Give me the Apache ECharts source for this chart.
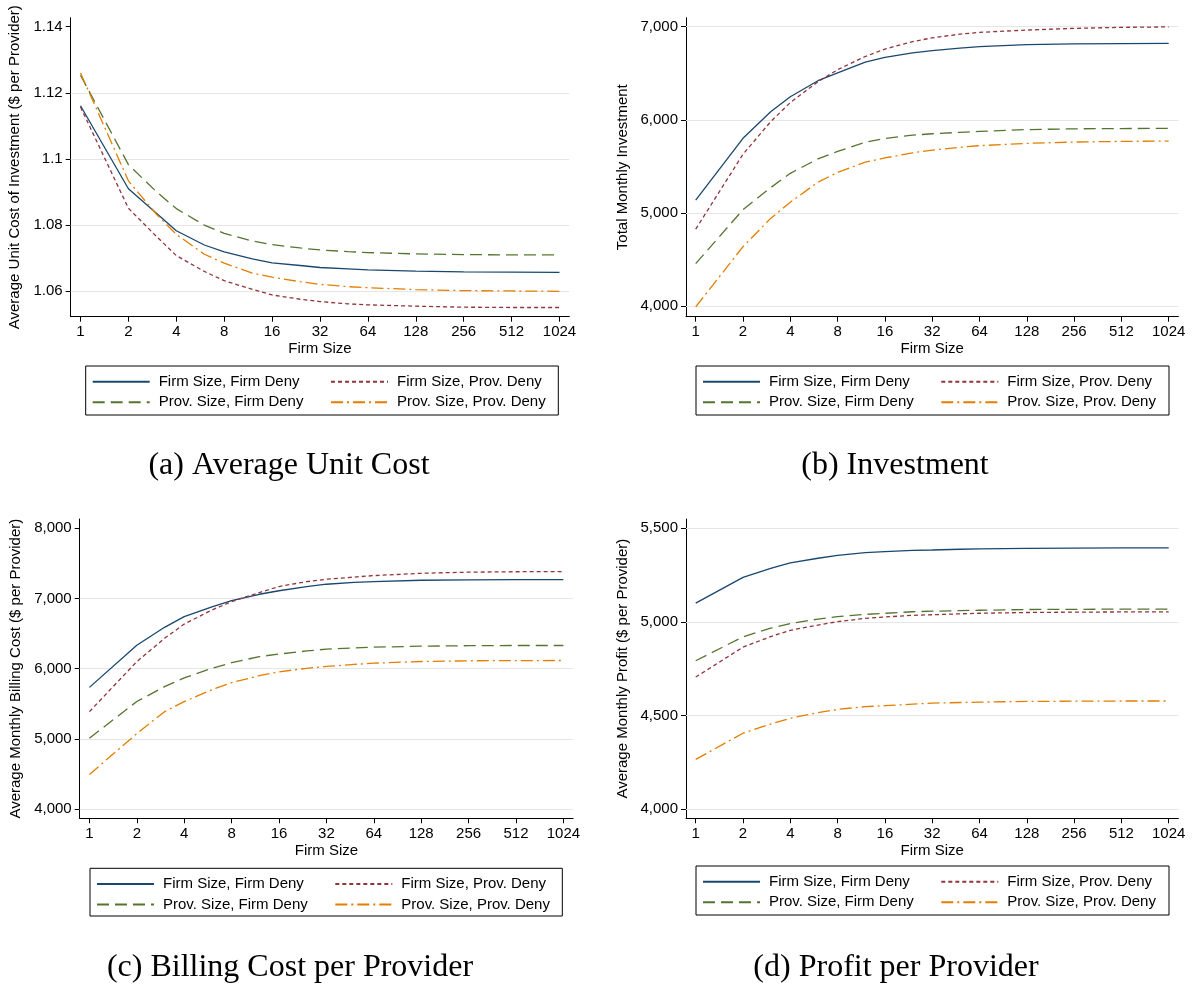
<!DOCTYPE html>
<html><head><meta charset="utf-8">
<script src="https://cdn.jsdelivr.net/npm/echarts@6/dist/echarts.min.js"></script>
<style>html,body{margin:0;padding:0;background:#fff}#c{width:1192px;height:985px}</style>
</head><body><div id="c"></div>
<script>
// ---------------- data ----------------
const firmSizes = [1,2,3,4,6,8,12,16,24,32,48,64,128,256,512,1024];
const xTickValues = [1,2,4,8,16,32,64,128,256,512,1024];
const seriesNames = ['Firm Size, Firm Deny','Firm Size, Prov. Deny','Prov. Size, Firm Deny','Prov. Size, Prov. Deny'];

// (a) Average Unit Cost
const unitCostFirmFirm = [1.1161,1.0910,1.0836,1.0783,1.0740,1.0719,1.0698,1.0686,1.0678,1.0672,1.0668,1.0665,1.0661,1.0659,1.0658,1.0657];
const unitCostFirmProv = [1.1157,1.0851,1.0766,1.0708,1.0660,1.0632,1.0606,1.0589,1.0576,1.0569,1.0562,1.0559,1.0555,1.0552,1.0551,1.0551];
const unitCostProvFirm = [1.1253,1.0983,1.0901,1.0850,1.0800,1.0775,1.0752,1.0741,1.0731,1.0725,1.0720,1.0717,1.0713,1.0711,1.0710,1.0710];
const unitCostProvProv = [1.1260,1.0934,1.0833,1.0772,1.0712,1.0685,1.0655,1.0643,1.0629,1.0621,1.0614,1.0611,1.0605,1.0602,1.0601,1.0600];
const unitCostTicks = [1.06,1.08,1.1,1.12,1.14];
const unitCostGrid = [1.06,1.08,1.1,1.12];

// (b) Investment
const investFirmFirm = [5138,5801,6087,6248,6420,6505,6620,6670,6718,6742,6770,6785,6807,6815,6819,6821];
const investFirmProv = [4825,5630,5980,6185,6409,6538,6680,6760,6840,6880,6920,6939,6964,6982,6993,6998];
const investProvFirm = [4455,5035,5271,5425,5580,5660,5760,5800,5835,5850,5865,5875,5895,5903,5906,5908];
const investProvProv = [3990,4637,4941,5115,5330,5435,5545,5590,5645,5675,5705,5722,5747,5761,5768,5772];
const investTicks = [4000,5000,6000,7000];
const investGrid = [4000,5000,6000,7000];

// (c) Billing Cost per Provider
const billFirmFirm = [5733,6333,6589,6742,6880,6970,7060,7110,7170,7203,7228,7241,7260,7265,7268,7269];
const billFirmProv = [5388,6100,6432,6635,6836,6955,7085,7170,7240,7274,7305,7326,7359,7375,7381,7383];
const billProvFirm = [5009,5532,5743,5868,6005,6085,6171,6208,6252,6278,6296,6306,6320,6327,6330,6330];
const billProvProv = [4492,5075,5387,5530,5700,5800,5900,5955,6005,6031,6060,6078,6102,6112,6115,6116];
const billTicks = [4000,5000,6000,7000,8000];
const billGrid = [4000,5000,6000,7000];

// (d) Profit per Provider
const profitFirmFirm = [5100,5238,5286,5315,5340,5355,5370,5375,5382,5384,5388,5390,5393,5394,5395,5395];
const profitFirmProv = [4705,4865,4921,4955,4983,5001,5019,5026,5035,5038,5043,5046,5050,5052,5053,5053];
const profitProvFirm = [4792,4920,4966,4991,5015,5028,5040,5046,5054,5057,5060,5062,5066,5067,5068,5068];
const profitProvProv = [4265,4405,4454,4485,4515,4532,4547,4552,4560,4566,4569,4571,4575,4576,4577,4577];
const profitTicks = [4000,4500,5000,5500];
const profitGrid = [4000,4500,5000,5500];

const yTitles = ['Average Unit Cost of Investment ($ per Provider)','Total Monthly Investment','Average Monthly Billing Cost ($ per Provider)','Average Monthly Profit ($ per Provider)'];
const captions = ['(a) Average Unit Cost','(b) Investment','(c) Billing Cost per Provider','(d) Profit per Provider'];

// ---------------- layout / style ----------------
const colors = ['#1a476f','#90353b','#55752f','#e37e00'];
const dashes = ['solid',[4,3],[12,6],[12,4,2,4]];
const FONT = '"Liberation Sans", Arial, sans-serif';
const xPad = 0.205; // axis extension in doublings

const panels = [
  {series:[unitCostFirmFirm,unitCostFirmProv,unitCostProvFirm,unitCostProvProv], ticks:unitCostTicks, grid:unitCostGrid,
   left:70.7, top:17.7, width:498.6, height:299, yMin:1.05232, yMax:1.14272, nameGap:48,
   fmt:v=>String(parseFloat(v.toFixed(4))), legend:[85.7,366,472.6,49], cap:[289,466]},
  {series:[investFirmFirm,investFirmProv,investProvFirm,investProvProv], ticks:investTicks, grid:investGrid,
   left:686, top:17.7, width:492.4, height:299, yMin:3885, yMax:7096.7, nameGap:56,
   fmt:v=>Math.round(v).toLocaleString('en-US'), legend:[696,366,473,49], cap:[895,466]},
  {series:[billFirmFirm,billFirmProv,billProvFirm,billProvProv], ticks:billTicks, grid:billGrid,
   left:79.7, top:519, width:493.4, height:299.3, yMin:3867.5, yMax:8132.5, nameGap:56,
   fmt:v=>Math.round(v).toLocaleString('en-US'), legend:[90,868.3,472.3,47.7], cap:[290,968]},
  {series:[profitFirmFirm,profitFirmProv,profitProvFirm,profitProvProv], ticks:profitTicks, grid:profitGrid,
   left:686, top:519, width:492.4, height:299.3, yMin:3950.3, yMax:5549.7, nameGap:56,
   fmt:v=>Math.round(v).toLocaleString('en-US'), legend:[696,866,473,49], cap:[896,968]}
];

const grids=[], xAxes=[], yAxes=[], series=[], legends=[], graphics=[];
panels.forEach((p,i)=>{
  grids.push({left:p.left, top:p.top, width:p.width, height:p.height, containLabel:false});
  xAxes.push({type:'log', logBase:2, gridIndex:i, min:Math.pow(2,-xPad), max:Math.pow(2,10+xPad),
    axisLine:{show:true, lineStyle:{color:'#000', width:1}},
    axisTick:{show:true, length:5, customValues:xTickValues, lineStyle:{color:'#000'}},
    axisLabel:{customValues:xTickValues, formatter:v=>String(Math.round(v)), fontSize:15, color:'#000', fontFamily:FONT, margin:8},
    splitLine:{show:false}, minorTick:{show:false},
    name:'Firm Size', nameLocation:'middle', nameGap:25,
    nameTextStyle:{fontSize:15, color:'#000', fontFamily:FONT}});
  yAxes.push({type:'value', gridIndex:i, min:p.yMin, max:p.yMax,
    axisLine:{show:true, lineStyle:{color:'#000', width:1}},
    axisTick:{show:true, length:5, customValues:p.ticks, lineStyle:{color:'#000'}},
    axisLabel:{customValues:p.ticks, formatter:p.fmt, fontSize:15, color:'#000', fontFamily:FONT, margin:8},
    splitLine:{show:false},
    name:yTitles[i], nameLocation:'middle', nameGap:p.nameGap,
    nameTextStyle:{fontSize:15, color:'#000', fontFamily:FONT}});
  series.push({type:'line', name:'gridlines'+i, xAxisIndex:i, yAxisIndex:i, data:[], silent:true,
    markLine:{silent:true, z:1, symbol:['none','none'], label:{show:false}, animation:false,
      lineStyle:{color:'#e6e6e6', width:1, type:'solid'},
      emphasis:{disabled:true},
      data:p.grid.map(v=>({yAxis:v}))}});
  p.series.forEach((arr,k)=>{
    series.push({type:'line', name:seriesNames[k], xAxisIndex:i, yAxisIndex:i, z:3,
      data:firmSizes.map((s,j)=>[s, arr[j]]),
      symbol:'none', showSymbol:false, smooth:false, silent:true,
      lineStyle:{color:colors[k], width:1.3, type:dashes[k]},
      itemStyle:{color:colors[k]}});
  });
  const [bx,by,bw,bh] = p.legend;
  graphics.push({type:'rect', shape:{x:bx, y:by, width:bw, height:bh}, style:{fill:'none', stroke:'#000', lineWidth:1}, silent:true});
  const rowTop = by + 15.7 - 7.5;
  [[seriesNames[0],seriesNames[2]],[seriesNames[1],seriesNames[3]]].forEach((names,c)=>{
    legends.push({data:names, orient:'vertical', left: bx + 6 + c*238.3, top: rowTop,
      itemWidth:57, itemHeight:15, itemGap:5.6, selectedMode:false, padding:0,
      itemStyle:{opacity:0, color:'rgba(0,0,0,0)', borderWidth:0},
      textStyle:{fontSize:15, color:'#000', fontFamily:FONT, padding:[0,0,0,4]}});
  });
  graphics.push({type:'text', x:p.cap[0], y:p.cap[1], silent:true,
    style:{text:captions[i], font:'32px "Liberation Serif", "Times New Roman", serif', fill:'#000', textAlign:'center', textVerticalAlign:'middle'}});
});

const chart = echarts.init(document.getElementById('c'), null, {renderer:'canvas'});
chart.setOption({animation:false, backgroundColor:'#fff', grid:grids, xAxis:xAxes, yAxis:yAxes, series:series, legend:legends, graphic:graphics});
</script></body></html>
